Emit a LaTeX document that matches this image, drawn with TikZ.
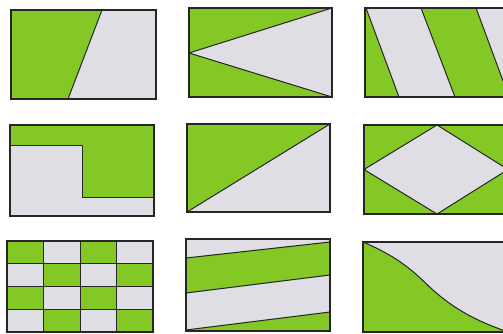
\documentclass[tikz,border=0pt]{standalone}
\usepackage{tikz}
\definecolor{leafgreen}{RGB}{132,200,38}
\definecolor{palegray}{RGB}{222,222,228}

\begin{document}
\begin{tikzpicture}[
  x=1pt,y=-1pt,
  gr/.style={fill=leafgreen},
  gy/.style={fill=palegray},
  edge/.style={draw=black!85,line width=1pt,line join=round},
  frame/.style={draw=black!85,line width=1.2pt}
]
\useasboundingbox (0,0) rectangle (503,334);
\clip (0,0) rectangle (503,334);
% top row
\fill[gr] (11,10) -- (102,10) -- (68,99) -- (11,99) -- cycle;
\fill[gy] (102,10) -- (156,10) -- (156,99) -- (68,99) -- cycle;
\draw[edge] (102,10) -- (68,99);
\draw[frame] (11,10) rectangle (156,99);
\fill[gr] (189,8) rectangle (332,97);
\filldraw[gy,edge] (189,53) -- (332,8) -- (332,97) -- cycle;
\draw[frame] (189,8) rectangle (332,97);
\fill[gr] (365,8) rectangle (512,97);
\fill[gy] (366,8) -- (421,8) -- (455,97) -- (399,97) -- cycle;
\fill[gy] (476,8) -- (512,8) -- (512,97) -- (509,97) -- cycle;
\draw[edge] (366,8) -- (399,97) (421,8) -- (455,97) (476,8) -- (509,97);
\draw[frame] (365,8) rectangle (512,97);
% middle row
\fill[gr] (10,125) rectangle (154,216);
\filldraw[gy,edge] (10,145) -- (82,145) -- (82,197) -- (154,197) -- (154,216) -- (10,216) -- cycle;
\draw[frame] (10,125) rectangle (154,216);
\fill[gr] (187,124) rectangle (330,212);
\filldraw[gy,edge] (187,212) -- (330,124) -- (330,212) -- cycle;
\draw[frame] (187,124) rectangle (330,212);
\fill[gr] (364,125) rectangle (512,214);
\filldraw[gy,edge] (364,169.5) -- (437,125) -- (508,169.5) -- (437,214) -- cycle;
\draw[frame] (364,125) rectangle (512,214);
% bottom row
\foreach \i in {0,...,3}
  \foreach \j in {0,...,3} {
    \pgfmathtruncatemacro\parity{mod(\i+\j,2)}
    \ifnum\parity=0 \def\cell{leafgreen}\else\def\cell{palegray}\fi
    \filldraw[fill=\cell,edge] (7+36.5*\i,241+22.75*\j) rectangle ++(36.5,22.75);
  }
\draw[frame] (7,241) rectangle (153,332);
\fill[gy] (186,239) rectangle (330,331);
\fill[gr] (186,258) -- (330,242) -- (330,275) -- (186,293) -- cycle;
\fill[gr] (186,330) -- (330,312) -- (330,331) -- (186,331) -- cycle;
\draw[edge] (186,258) -- (330,242) (186,293) -- (330,275) (186,330) -- (330,312);
\draw[frame] (186,239) rectangle (330,331);
\fill[gy] (363,242) rectangle (512,332);
\filldraw[gr,edge] (363,242) .. controls (410,262) and (420,280) .. (440,296)
  .. controls (462,314) and (485,324) .. (508,332) -- (363,332) -- cycle;
\draw[frame] (363,242) rectangle (512,332);
\end{tikzpicture}
\end{document}
